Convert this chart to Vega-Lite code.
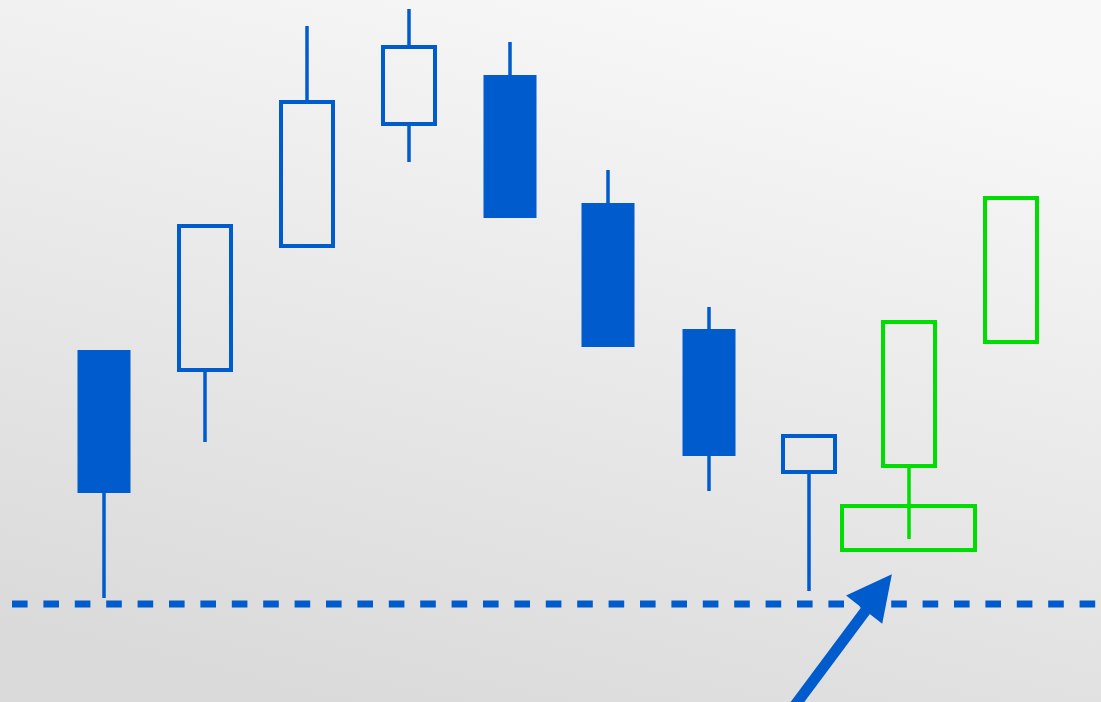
{
  "$schema": "https://vega.github.io/schema/vega-lite/v6.json",
  "width": 1101,
  "height": 702,
  "padding": 0,
  "autosize": {"type": "none"},
  "config": {"view": {"stroke": null}, "scale": {"continuousPadding": 0}},
  "datasets": {
    "candles": [
      {"x": 104, "top": 352, "bottom": 209, "high": 352, "low": 104, "kind": "filled"},
      {"x": 205, "top": 476, "bottom": 332, "high": 476, "low": 260, "kind": "hollow"},
      {"x": 307, "top": 600, "bottom": 456, "high": 676, "low": 456, "kind": "hollow"},
      {"x": 409, "top": 655, "bottom": 578, "high": 693, "low": 540, "kind": "hollow"},
      {"x": 510, "top": 627, "bottom": 484, "high": 660, "low": 484, "kind": "filled"},
      {"x": 608, "top": 499, "bottom": 355, "high": 532, "low": 355, "kind": "filled"},
      {"x": 709, "top": 373, "bottom": 246, "high": 395, "low": 211, "kind": "filled"},
      {"x": 809, "top": 266, "bottom": 230, "high": 266, "low": 111, "kind": "hollow"},
      {"x": 909, "top": 380, "bottom": 236, "high": 380, "low": 163, "kind": "green"},
      {"x": 1011, "top": 504, "bottom": 360, "high": 504, "low": 360, "kind": "green"}
    ]
  },
  "layer": [
    {
      "data": {"values": [{"x0": 0, "x1": 1101, "y0": 0, "y1": 702}]},
      "mark": {
        "type": "rect",
        "fill": {
          "gradient": "linear",
          "x1": 0.7, "y1": 0, "x2": 0.3, "y2": 1,
          "stops": [
            {"offset": 0, "color": "#f8f8f8"},
            {"offset": 1, "color": "#dadada"}
          ]
        },
        "strokeWidth": 0
      },
      "encoding": {
        "x": {"field": "x0", "type": "quantitative", "scale": {"domain": [0, 1101], "nice": false, "zero": false, "padding": 0}, "axis": null},
        "x2": {"field": "x1"},
        "y": {"field": "y0", "type": "quantitative", "scale": {"domain": [0, 702], "nice": false, "zero": false, "padding": 0}, "axis": null},
        "y2": {"field": "y1"}
      }
    },
    {
      "data": {"values": [{"x0": 12, "x1": 1101, "level": 98}]},
      "mark": {"type": "rule", "color": "#005bcc", "strokeWidth": 7, "strokeDash": [15.6, 15.8], "strokeCap": "butt"},
      "encoding": {
        "x": {"field": "x0", "type": "quantitative", "axis": null},
        "x2": {"field": "x1"},
        "y": {"field": "level", "type": "quantitative", "axis": null}
      }
    },
    {
      "data": {"name": "candles"},
      "transform": [{"filter": "datum.kind !== 'green'"}],
      "mark": {"type": "rule", "color": "#005bcc", "strokeWidth": 3.5},
      "encoding": {
        "x": {"field": "x", "type": "quantitative", "axis": null},
        "y": {"field": "top", "type": "quantitative", "axis": null},
        "y2": {"field": "high"}
      }
    },
    {
      "data": {"name": "candles"},
      "transform": [{"filter": "datum.kind !== 'green'"}],
      "mark": {"type": "rule", "color": "#005bcc", "strokeWidth": 3.5},
      "encoding": {
        "x": {"field": "x", "type": "quantitative", "axis": null},
        "y": {"field": "low", "type": "quantitative", "axis": null},
        "y2": {"field": "bottom"}
      }
    },
    {
      "data": {"name": "candles"},
      "transform": [{"filter": "datum.kind === 'green'"}],
      "mark": {"type": "rule", "color": "#00dd00", "strokeWidth": 3.5},
      "encoding": {
        "x": {"field": "x", "type": "quantitative", "axis": null},
        "y": {"field": "low", "type": "quantitative", "axis": null},
        "y2": {"field": "bottom"}
      }
    },
    {
      "data": {"name": "candles"},
      "transform": [{"filter": "datum.kind === 'filled'"}],
      "mark": {"type": "bar", "color": "#005bcc", "size": 53, "cornerRadius": 0},
      "encoding": {
        "x": {"field": "x", "type": "quantitative", "axis": null},
        "y": {"field": "top", "type": "quantitative", "axis": null},
        "y2": {"field": "bottom"}
      }
    },
    {
      "data": {"name": "candles"},
      "transform": [{"filter": "datum.kind === 'hollow'"}],
      "mark": {"type": "bar", "fill": null, "fillOpacity": 0, "stroke": "#005bcc", "strokeWidth": 4, "size": 52},
      "encoding": {
        "x": {"field": "x", "type": "quantitative", "axis": null},
        "y": {"field": "top", "type": "quantitative", "axis": null},
        "y2": {"field": "bottom"}
      }
    },
    {
      "data": {"name": "candles"},
      "transform": [{"filter": "datum.kind === 'green'"}],
      "mark": {"type": "bar", "fill": null, "fillOpacity": 0, "stroke": "#00dd00", "strokeWidth": 4, "size": 52},
      "encoding": {
        "x": {"field": "x", "type": "quantitative", "axis": null},
        "y": {"field": "top", "type": "quantitative", "axis": null},
        "y2": {"field": "bottom"}
      }
    },
    {
      "data": {"values": [{"left": 842, "right": 975, "lo": 152, "hi": 196}]},
      "mark": {"type": "rect", "fill": null, "fillOpacity": 0, "stroke": "#00dd00", "strokeWidth": 4},
      "encoding": {
        "x": {"field": "left", "type": "quantitative", "axis": null},
        "x2": {"field": "right"},
        "y": {"field": "lo", "type": "quantitative", "axis": null},
        "y2": {"field": "hi"}
      }
    },
    {
      "data": {"values": [{"xa": 790, "ya": -10, "xb": 869, "yb": 96}]},
      "mark": {"type": "rule", "color": "#005bcc", "strokeWidth": 11, "strokeCap": "butt", "clip": true},
      "encoding": {
        "x": {"field": "xa", "type": "quantitative", "axis": null},
        "y": {"field": "ya", "type": "quantitative", "axis": null},
        "x2": {"field": "xb"},
        "y2": {"field": "yb"}
      }
    },
    {
      "data": {"values": [{"xh": 878, "yh": 110}]},
      "mark": {
        "type": "point",
        "shape": "M0,-1L1.02,1L-1.02,1Z",
        "filled": true,
        "fill": "#005bcc",
        "opacity": 1,
        "strokeWidth": 0,
        "size": 2025,
        "angle": 38
      },
      "encoding": {
        "x": {"field": "xh", "type": "quantitative", "axis": null},
        "y": {"field": "yh", "type": "quantitative", "axis": null}
      }
    }
  ]
}
